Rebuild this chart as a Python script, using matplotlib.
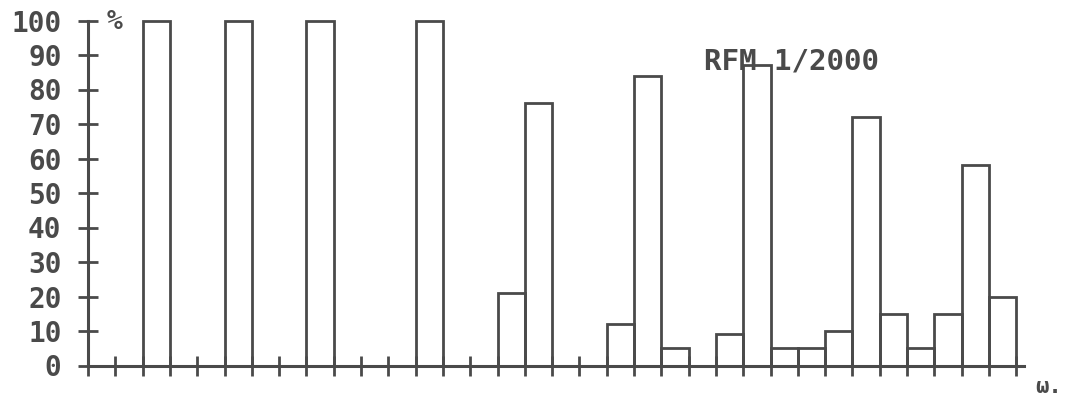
import matplotlib
matplotlib.use("Agg")
import matplotlib.pyplot as plt
import numpy as np

# ---- data ----
bin_values = [0, 0, 100, 0, 0, 100, 0, 0, 100, 0, 0, 0, 100, 0, 0, 21, 76, 0, 0, 12,
              84, 5, 0, 9, 87, 5, 5, 10, 72, 15, 5, 15, 58, 20]
ytick_values = [0, 10, 20, 30, 40, 50, 60, 70, 80, 90, 100]
ytick_labels = ["0", "10", "20", "30", "40", "50", "60", "70", "80", "90", "100"]
title_text = "RFM 1/2000"
y_unit = "%"
x_unit = "ω."

INK = "#4a4a4a"
W, H = 1067, 399
fig = plt.figure(figsize=(W / 100, H / 100), dpi=100)

x0, x_end = 88, 1024
px_per_bin = 27.3
y0, y100 = 365.5, 20.5
ax = fig.add_axes([x0 / W, (H - y0) / H, (x_end - x0) / W, (y0 - y100) / H])
ax.set_xlim(0, (x_end - x0) / px_per_bin)
ax.set_ylim(0, 100)

edges = np.arange(len(bin_values))
ax.bar(edges, bin_values, width=1.0, align="edge", fill=False,
       edgecolor=INK, linewidth=2.0, clip_on=False)

for s in ["top", "right"]:
    ax.spines[s].set_visible(False)
for s in ["left", "bottom"]:
    ax.spines[s].set_color(INK)
    ax.spines[s].set_linewidth(2.2)

ax.set_xticks(np.arange(0, len(bin_values) + 1))
ax.set_xticklabels([])
ax.set_yticks(ytick_values)
ax.set_yticklabels(ytick_labels)
ax.tick_params(axis="both", direction="inout", length=14, width=2.0, color=INK)
ax.tick_params(axis="y", pad=12)
for lab in ax.get_yticklabels():
    lab.set_fontfamily("DejaVu Sans Mono")
    lab.set_fontweight("bold")
    lab.set_fontsize(20)
    lab.set_color(INK)

fig.text(115 / W, 1 - 22 / H, y_unit, fontsize=19, fontweight="bold",
         family="DejaVu Sans Mono", color=INK, ha="center", va="center")
fig.text(791 / W, 1 - 62 / H, title_text, fontsize=21, fontweight="bold",
         family="DejaVu Sans Mono", color=INK, ha="center", va="center")
fig.text(1049 / W, 1 - 387 / H, x_unit, fontsize=16, fontweight="bold",
         family="DejaVu Sans Mono", color=INK, ha="center", va="center")

fig.savefig("out.png", dpi=100, facecolor="white")
